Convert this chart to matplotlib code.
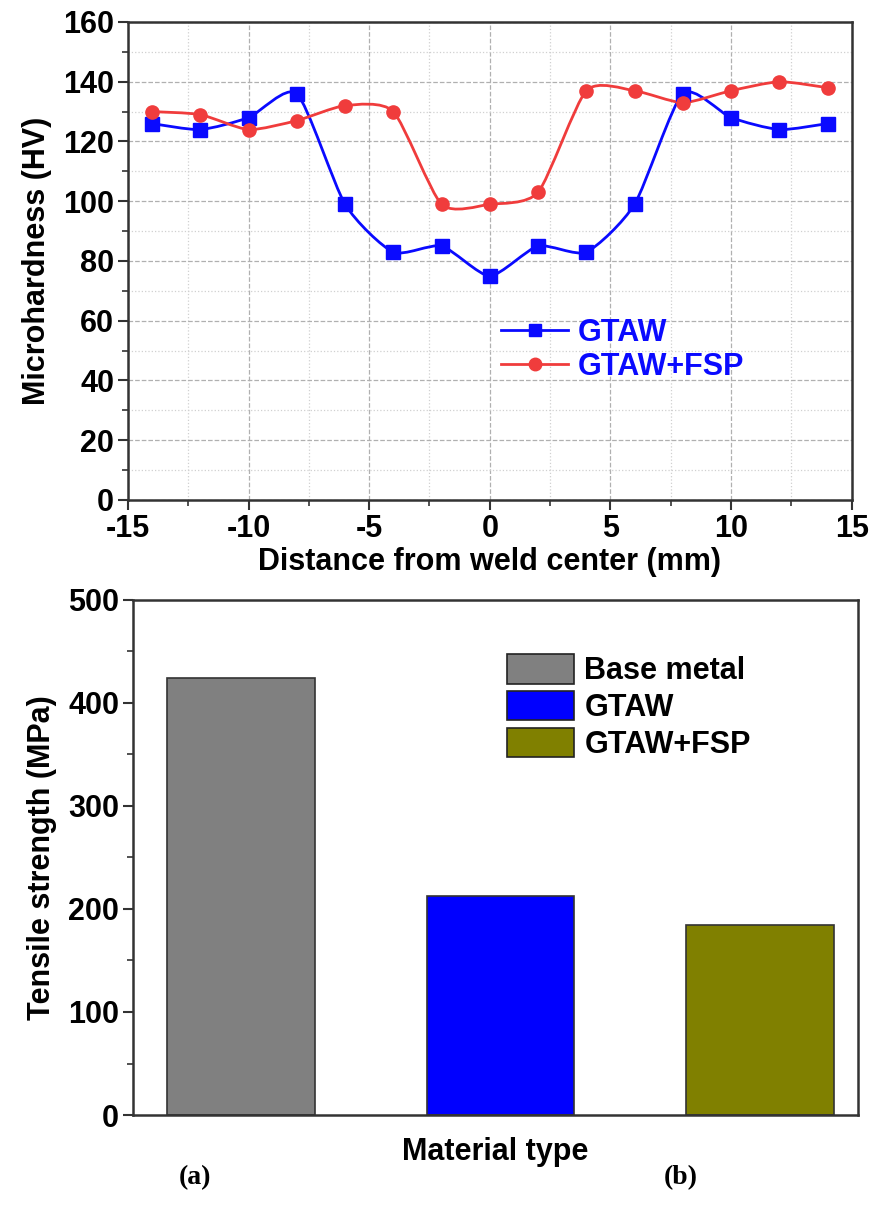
import numpy as np
import matplotlib
matplotlib.use("Agg")
import matplotlib.pyplot as plt
from matplotlib.path import Path
from matplotlib.patches import PathPatch, Patch
from matplotlib.lines import Line2D
from matplotlib.ticker import MultipleLocator

plt.rcParams['font.family'] = 'Liberation Sans'
plt.rcParams['font.weight'] = 'bold'
plt.rcParams['axes.unicode_minus'] = False

# ---- data
distance = [-14, -12, -10, -8, -6, -4, -2, 0, 2, 4, 6, 8, 10, 12, 14]
hv_gtaw = [126, 124, 128, 136, 99, 83, 85, 75, 85, 83, 99, 136, 128, 124, 126]
hv_fsp = [130, 129, 124, 127, 132, 130, 99, 99, 103, 137, 137, 133, 137, 140, 138]

materials = ['Base metal', 'GTAW', 'GTAW+FSP']
tensile = [424, 213, 184]
bar_colors = ['#808080', '#0000ff', '#808000']

blue = '#0a0aff'
red = '#f03c3c'
fs = 22


def smooth_path(x, y, k=9.0):
    # catmull-rom style bezier through the points (a bit tighter)
    p = np.column_stack([x, y]).astype(float)
    pts = np.vstack([p[0], p, p[-1]])
    verts = [tuple(p[0])]
    codes = [Path.MOVETO]
    for i in range(1, len(pts) - 2):
        c1 = pts[i] + (pts[i + 1] - pts[i - 1]) / k
        c2 = pts[i + 1] - (pts[i + 2] - pts[i]) / k
        verts += [tuple(c1), tuple(c2), tuple(pts[i + 1])]
        codes += [Path.CURVE4] * 3
    return Path(verts, codes)


fig = plt.figure(figsize=(8.7, 12.15), dpi=100)

######### (a) microhardness
ax1 = fig.add_axes([0.147, 0.5885, 0.832, 0.3934])
for yv, col, mk in [(hv_gtaw, blue, 's'), (hv_fsp, red, 'o')]:
    ax1.add_patch(PathPatch(smooth_path(distance, yv), fill=False, edgecolor=col, lw=2, zorder=3))
    ax1.plot(distance, yv, ls='none', marker=mk, color=col, ms=9.5, zorder=4)

ax1.set_xlim(-15, 15)
ax1.set_ylim(0, 160)
ax1.xaxis.set_major_locator(MultipleLocator(5))
ax1.xaxis.set_minor_locator(MultipleLocator(2.5))
ax1.yaxis.set_major_locator(MultipleLocator(20))
ax1.yaxis.set_minor_locator(MultipleLocator(10))
ax1.grid(True, which='major', ls='--', color='#b0b0b0', lw=0.9)
ax1.grid(True, which='minor', ls=':', color='#d0d0d0', lw=0.9)
ax1.set_axisbelow(True)
ax1.tick_params(which='major', direction='out', length=7, width=1.5, labelsize=fs, color='#333333', pad=3)
ax1.tick_params(which='minor', direction='out', length=4, width=1.2, color='#333333')
ax1.set_xlabel('Distance from weld center (mm)', fontsize=fs, fontweight='bold', labelpad=2)
ax1.set_ylabel('Microhardness (HV)', fontsize=fs, fontweight='bold', labelpad=8)
for s in ax1.spines.values():
    s.set_linewidth(1.8)
    s.set_color('#333333')

handles = [Line2D([], [], color=blue, marker='s', ms=9, lw=2),
           Line2D([], [], color=red, marker='o', ms=9, lw=2)]
leg = ax1.legend(handles, ['GTAW', 'GTAW+FSP'], loc='upper left',
                 bbox_to_anchor=(0.49, 0.42), frameon=False,
                 handlelength=2.2, handletextpad=0.3, labelspacing=0.15,
                 borderaxespad=0.2, prop={'weight': 'bold', 'size': fs})
for t in leg.get_texts():
    t.set_color(blue)

######### (b) tensile strength
ax2 = fig.add_axes([0.153, 0.0823, 0.833, 0.4239])
pos = np.arange(1, len(materials) + 1)
ax2.bar(pos, tensile, width=0.57, color=bar_colors, edgecolor='#333333', lw=1.2)
ax2.set_xlim(0.583, 3.378)
ax2.set_ylim(0, 500)
ax2.set_xticks([])
ax2.yaxis.set_major_locator(MultipleLocator(100))
ax2.yaxis.set_minor_locator(MultipleLocator(50))
ax2.tick_params(which='major', direction='out', length=7, width=1.5, labelsize=fs, color='#333333', pad=3)
ax2.tick_params(which='minor', direction='out', length=4, width=1.2, color='#333333')
ax2.set_xlabel('Material type', fontsize=fs, fontweight='bold', labelpad=16)
ax2.set_ylabel('Tensile strength (MPa)', fontsize=fs, fontweight='bold', labelpad=8)
for s in ax2.spines.values():
    s.set_linewidth(1.8)
    s.set_color('#333333')

patches = [Patch(facecolor=c, edgecolor='#222222', lw=1.2) for c in bar_colors]
ax2.legend(patches, materials, loc='upper left', bbox_to_anchor=(0.49, 0.93),
           frameon=False, handlelength=2.2, handleheight=1.1, handletextpad=0.35,
           labelspacing=0.15, borderaxespad=0.2, prop={'weight': 'bold', 'size': fs})

fig.text(0.224, 0.025, '(a)', family='Liberation Serif', fontweight='bold', fontsize=20, ha='center')
fig.text(0.782, 0.025, '(b)', family='Liberation Serif', fontweight='bold', fontsize=20, ha='center')

fig.savefig('out.png', dpi=100)
